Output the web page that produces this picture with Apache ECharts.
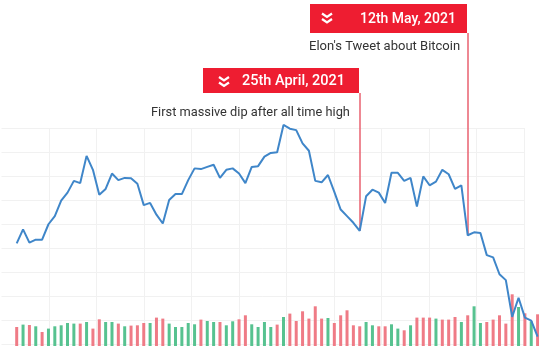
<!DOCTYPE html>
<html>
<head>
<meta charset="utf-8">
<script src="https://cdn.jsdelivr.net/npm/echarts@6/dist/echarts.min.js"></script>
<style>html,body{margin:0;padding:0;background:#fff}#c{width:539px;height:349px}</style>
</head>
<body>
<div id="c"></div>
<script>
const dates = ['Mar 2','Mar 3','Mar 4','Mar 5','Mar 6','Mar 7','Mar 8','Mar 9','Mar 10','Mar 11','Mar 12','Mar 13','Mar 14','Mar 15','Mar 16','Mar 17','Mar 18','Mar 19','Mar 20','Mar 21','Mar 22','Mar 23','Mar 24','Mar 25','Mar 26','Mar 27','Mar 28','Mar 29','Mar 30','Mar 31',
'Apr 1','Apr 2','Apr 3','Apr 4','Apr 5','Apr 6','Apr 7','Apr 8','Apr 9','Apr 10','Apr 11','Apr 12','Apr 13','Apr 14','Apr 15','Apr 16','Apr 17','Apr 18','Apr 19','Apr 20','Apr 21','Apr 22','Apr 23','Apr 24','Apr 25','Apr 26','Apr 27','Apr 28','Apr 29','Apr 30',
'May 1','May 2','May 3','May 4','May 5','May 6','May 7','May 8','May 9','May 10','May 11','May 12','May 13','May 14','May 15','May 16','May 17','May 18','May 19','May 20','May 21','May 22','May 23'];

const prices = [47400,49300,47500,47900,47900,50000,51100,53200,54300,55900,
 55600,59300,57400,54000,54800,56900,56000,56300,56250,55500,
 52600,52900,51300,50100,53300,54100,54100,56000,57600,57500,
 57800,58100,56300,57400,57600,56900,55600,57800,57900,59200,
 59700,59800,63500,63000,62800,61000,60000,55900,55700,56700,
 54400,52000,51100,50200,49100,53800,54700,54300,52900,57000,
 57000,55900,56300,52400,56500,55300,55800,57400,56800,54800,
 55300,48500,48900,48800,45800,45500,43200,42400,37400,40000,
 37300,36900,34700];

const volumes = [19,21.4,21,19.7,14,17.4,19.7,20.7,23,22.4,
 22.4,24,17.4,26.7,24,24,22.4,19.7,20.4,20.7,
 23,23,28.4,27.4,22.4,19,19,23,21.7,26.4,
 25,24,24,20.7,24.7,26.7,30.7,21.7,19,24,
 19,21.4,29,32.4,25,34.7,27.4,39.7,27.4,28,
 23,30.7,35.7,20.7,19.7,24,20.7,19.7,19.7,21.7,
 17.4,15.7,20.7,28.4,28.4,28.4,27.4,26.4,26.4,29,
 24,30.7,39.7,23,24,26.4,30.7,22.4,51.7,39,
 32.7,24.7,31.7];

const directions = ['r','g','r','g','r','g','g','g','g','g',
 'r','g','r','r','g','g','r','g','r','r',
 'r','g','r','r','g','g','g','g','g','r',
 'g','g','r','g','g','r','r','g','g','g',
 'g','r','g','r','r','r','r','r','r','g',
 'r','r','r','r','r','g','g','r','r','g',
 'g','r','g','r','r','r','g','r','r','r',
 'g','r','g','g','r','r','r','r','r','g',
 'r','g','r'];

const events = [
  {date:'Apr 25', title:'25th April, 2021', note:'First massive dip after all time high', topPrice:67850},
  {date:'May 12', title:'12th May, 2021', note:"Elon's Tweet about Bitcoin", topPrice:76010}
];

const GREEN = '#57c290', RED = '#ef7b86', BOX = '#ee1d31';

const chart = echarts.init(document.getElementById('c'), null, {renderer:'canvas'});

const volData = volumes.map((v,i)=>({value:v, itemStyle:{color: directions[i]==='g'?GREEN:RED}}));

const markData = events.map(e=>{
  const i = dates.indexOf(e.date);
  return [{coord:[e.date, prices[i]]},{coord:[e.date, e.topPrice]}];
});

function chevron(cx, cy){
  return [
    {type:'polyline', shape:{points:[[cx-5,cy-5],[cx,cy-1.5],[cx+5,cy-5]]}, style:{stroke:'#fff', lineWidth:2.2, fill:null}, z:10},
    {type:'polyline', shape:{points:[[cx-5,cy+0.5],[cx,cy+4],[cx+5,cy+0.5]]}, style:{stroke:'#fff', lineWidth:2.2, fill:null}, z:10}
  ];
}

const FONT = 'Roboto, "Noto Sans", sans-serif';

const graphics = [
  {type:'rect', shape:{x:203,y:68,width:156,height:25}, style:{fill:BOX}, z:9},
  ...chevron(224,82),
  {type:'text', x:242, y:81, style:{text:events[0].title, fill:'#fff', fontSize:14.5, fontWeight:500, fontFamily:FONT, verticalAlign:'middle', align:'left'}, z:10},
  {type:'text', x:151, y:112.5, style:{text:events[0].note, fill:'#333', fontSize:12.8, fontFamily:FONT, verticalAlign:'middle', align:'left'}, z:10},
  {type:'rect', shape:{x:310,y:4,width:157,height:29}, style:{fill:BOX}, z:9},
  ...chevron(327,18.5),
  {type:'text', x:360, y:19, style:{text:events[1].title, fill:'#fff', fontSize:14, fontWeight:500, fontFamily:FONT, verticalAlign:'middle', align:'left'}, z:10},
  {type:'text', x:309, y:47, style:{text:events[1].note, fill:'#333', fontSize:13, fontFamily:FONT, verticalAlign:'middle', align:'left'}, z:10}
];

chart.setOption({
  animation:false,
  backgroundColor:'#fff',
  grid:[
    {left:16.7, right:1.4, top:10, bottom:3},
    {left:1.5, width:522.5, top:128, height:216}
  ],
  xAxis:[
    {type:'category', data:dates, boundaryGap:false, gridIndex:0, show:false},
    {type:'value', gridIndex:1, min:0, max:11, interval:1, axisLine:{show:false}, axisTick:{show:false}, axisLabel:{show:false},
     splitLine:{show:true, showMinLine:false, lineStyle:{color:'#f1f1f1', width:1}}}
  ],
  yAxis:[
    {type:'value', gridIndex:0, min:33440, max:79140, show:false, splitLine:{show:false}},
    {type:'value', gridIndex:0, min:0, max:336, show:false, splitLine:{show:false}},
    {type:'value', gridIndex:1, min:0, max:9, interval:1, axisLine:{show:false}, axisTick:{show:false}, axisLabel:{show:false},
     splitLine:{show:true, lineStyle:{color:'#f1f1f1', width:1}}}
  ],
  series:[
    {type:'bar', xAxisIndex:0, yAxisIndex:1, data:volData, barWidth:3, silent:true, z:2},
    {type:'line', xAxisIndex:0, yAxisIndex:0, data:prices, showSymbol:false, symbol:'none',
     lineStyle:{color:'#3f86c9', width:2}, z:4, silent:true,
     markLine:{silent:true, symbol:'none', label:{show:false}, lineStyle:{color:'#e8606f', width:1.5, type:'solid'}, data:markData, z:3}}
  ],
  graphic:graphics
});
</script>
</body>
</html>
